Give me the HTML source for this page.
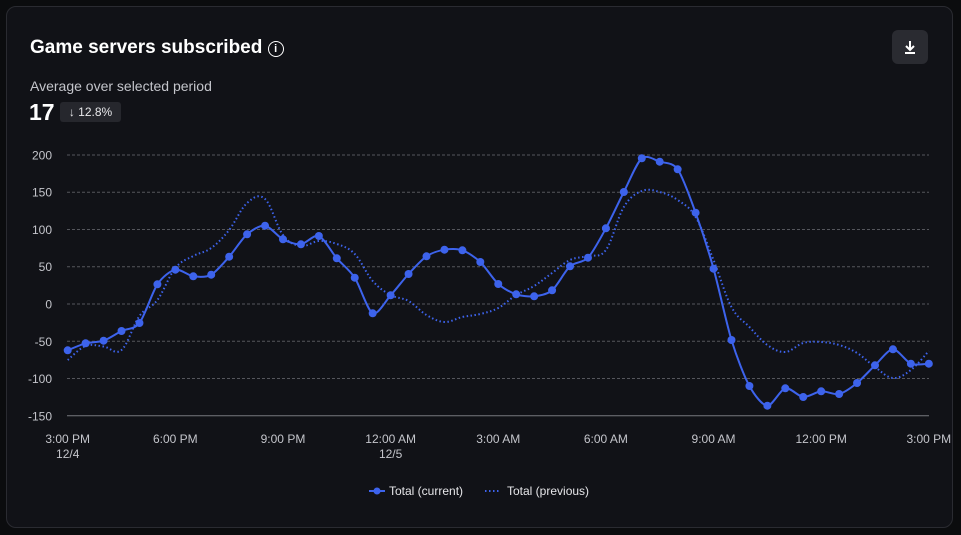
<!DOCTYPE html>
<html><head><meta charset="utf-8"><style>
html,body{margin:0;padding:0;background:#0b0c0e;width:961px;height:535px;overflow:hidden;font-family:"Liberation Sans",sans-serif;color:#e6e6e9}
.card{position:absolute;left:6px;top:6px;width:945px;height:520px;border:1px solid #2a2b31;border-radius:10px;background:#111217}
.t{position:absolute;left:23px;top:30px;font-size:19px;font-weight:bold;color:#fff}
.sub{position:absolute;left:23px;top:71px;font-size:14px;color:#c4c5cb}
.big{position:absolute;left:22px;top:92px;font-size:23px;font-weight:bold;color:#fff}
.badge{position:absolute;left:53px;top:95px;height:20px;width:61px;border-radius:3px;background:#26272d;font-size:12px;color:#e8e8eb;line-height:20px;text-align:center}
.btn{position:absolute;left:885px;top:23px;width:36px;height:34px;border-radius:6px;background:#2a2b31}
</style></head><body>
<div class="card">
<div class="t">Game servers subscribed <span style="display:inline-block;width:14px;height:14px;border:1.6px solid #fff;border-radius:50%;font-size:11px;line-height:14px;text-align:center;vertical-align:1px">i</span></div>
<div class="sub">Average over selected period</div>
<div class="big">17</div>
<div class="badge">↓ 12.8%</div>
<div class="btn"><svg width="36" height="34"><path d="M18 11v9M14 16l4 4 4-4" stroke="#fff" stroke-width="2" fill="none"/><path d="M13 23h10" stroke="#fff" stroke-width="2"/></svg></div>
</div>
<svg id="c" width="961" height="535" style="position:absolute;left:0;top:0" font-family="Liberation Sans, sans-serif"></svg>
<script>
var s=document.getElementById('c'),h='';
var ys=[200,150,100,50,0,-50,-100,-150];
ys.forEach(function(v){var y=304-v*0.7453;
 h+='<text x="52" y="'+(y+4.5)+'" fill="#c4c5cb" font-size="12" text-anchor="end">'+v+'</text>';
 if(v==-150)h+='<line x1="67" x2="929" y1="'+y+'" y2="'+y+'" stroke="#77787e" stroke-width="1"/>';
 else h+='<line x1="67" x2="929" y1="'+y+'" y2="'+y+'" stroke="#55565c" stroke-dasharray="3,2" stroke-width="1"/>';});
var xl=[["3:00 PM","12/4"],["6:00 PM"],["9:00 PM"],["12:00 AM","12/5"],["3:00 AM"],["6:00 AM"],["9:00 AM"],["12:00 PM"],["3:00 PM"]];
xl.forEach(function(l,i){var x=67.7+i*6*17.94;
 h+='<text x="'+x+'" y="443" fill="#c4c5cb" font-size="12" text-anchor="middle">'+l[0]+'</text>';
 if(l[1])h+='<text x="'+x+'" y="458" fill="#c4c5cb" font-size="12" text-anchor="middle">'+l[1]+'</text>';});
var cur=[350.3,343.3,340.7,331,323,284.3,269.7,276.3,274.7,256.7,234.3,225.7,239.3,244.3,236,258.3,277.7,313.3,295.3,274,256.3,249.7,250.3,262,284,294.3,296.3,290.3,266.3,257.7,228.3,192,158.3,161.7,169.3,212.7,268.7,340,386,405.7,388.3,397,391.3,394,383,365.3,349.3,363.7,363.7];
var prev=[360,346,346.5,350,316,300,268,256,248,230,203,199,235,246,241,244,254,281,295,301,315,322,317,314,308,295,286,273,260,256,250,207,191,192,200,217,260,307,327,345,352,343,342,345,353,367,378,370,351];
function path(a,t){var p=a.map(function(y,i){return[67.7+i*17.94,y]});var d='M'+p[0][0]+','+p[0][1];
 for(var i=0;i<p.length-1;i++){var p0=p[i-1]||p[i],p1=p[i],p2=p[i+1],p3=p[i+2]||p2;
 d+='C'+(p1[0]+(p2[0]-p0[0])*t)+','+(p1[1]+(p2[1]-p0[1])*t)+' '+(p2[0]-(p3[0]-p1[0])*t)+','+(p2[1]-(p3[1]-p1[1])*t)+' '+p2[0]+','+p2[1];}
 return d;}
h+='<path d="'+path(prev,0.18)+'" fill="none" stroke="#3d63ec" stroke-width="2" stroke-dasharray="1.5,2.5"/>';
h+='<path d="'+path(cur,0.14)+'" fill="none" stroke="#3d63ec" stroke-width="2"/>';
cur.forEach(function(y,i){h+='<circle cx="'+(67.7+i*17.94)+'" cy="'+y+'" r="4" fill="#3d63ec"/>';});
h+='<line x1="369" x2="385" y1="491" y2="491" stroke="#3d63ec" stroke-width="2"/><circle cx="377" cy="491" r="3.5" fill="#3d63ec"/>';
h+='<text x="389" y="495" fill="#e6e6e9" font-size="12">Total (current)</text>';
h+='<line x1="485" x2="501" y1="491" y2="491" stroke="#3d63ec" stroke-width="2" stroke-dasharray="1.5,2.5"/>';
h+='<text x="507" y="495" fill="#e6e6e9" font-size="12">Total (previous)</text>';
s.innerHTML=h;
</script>
</body></html>
